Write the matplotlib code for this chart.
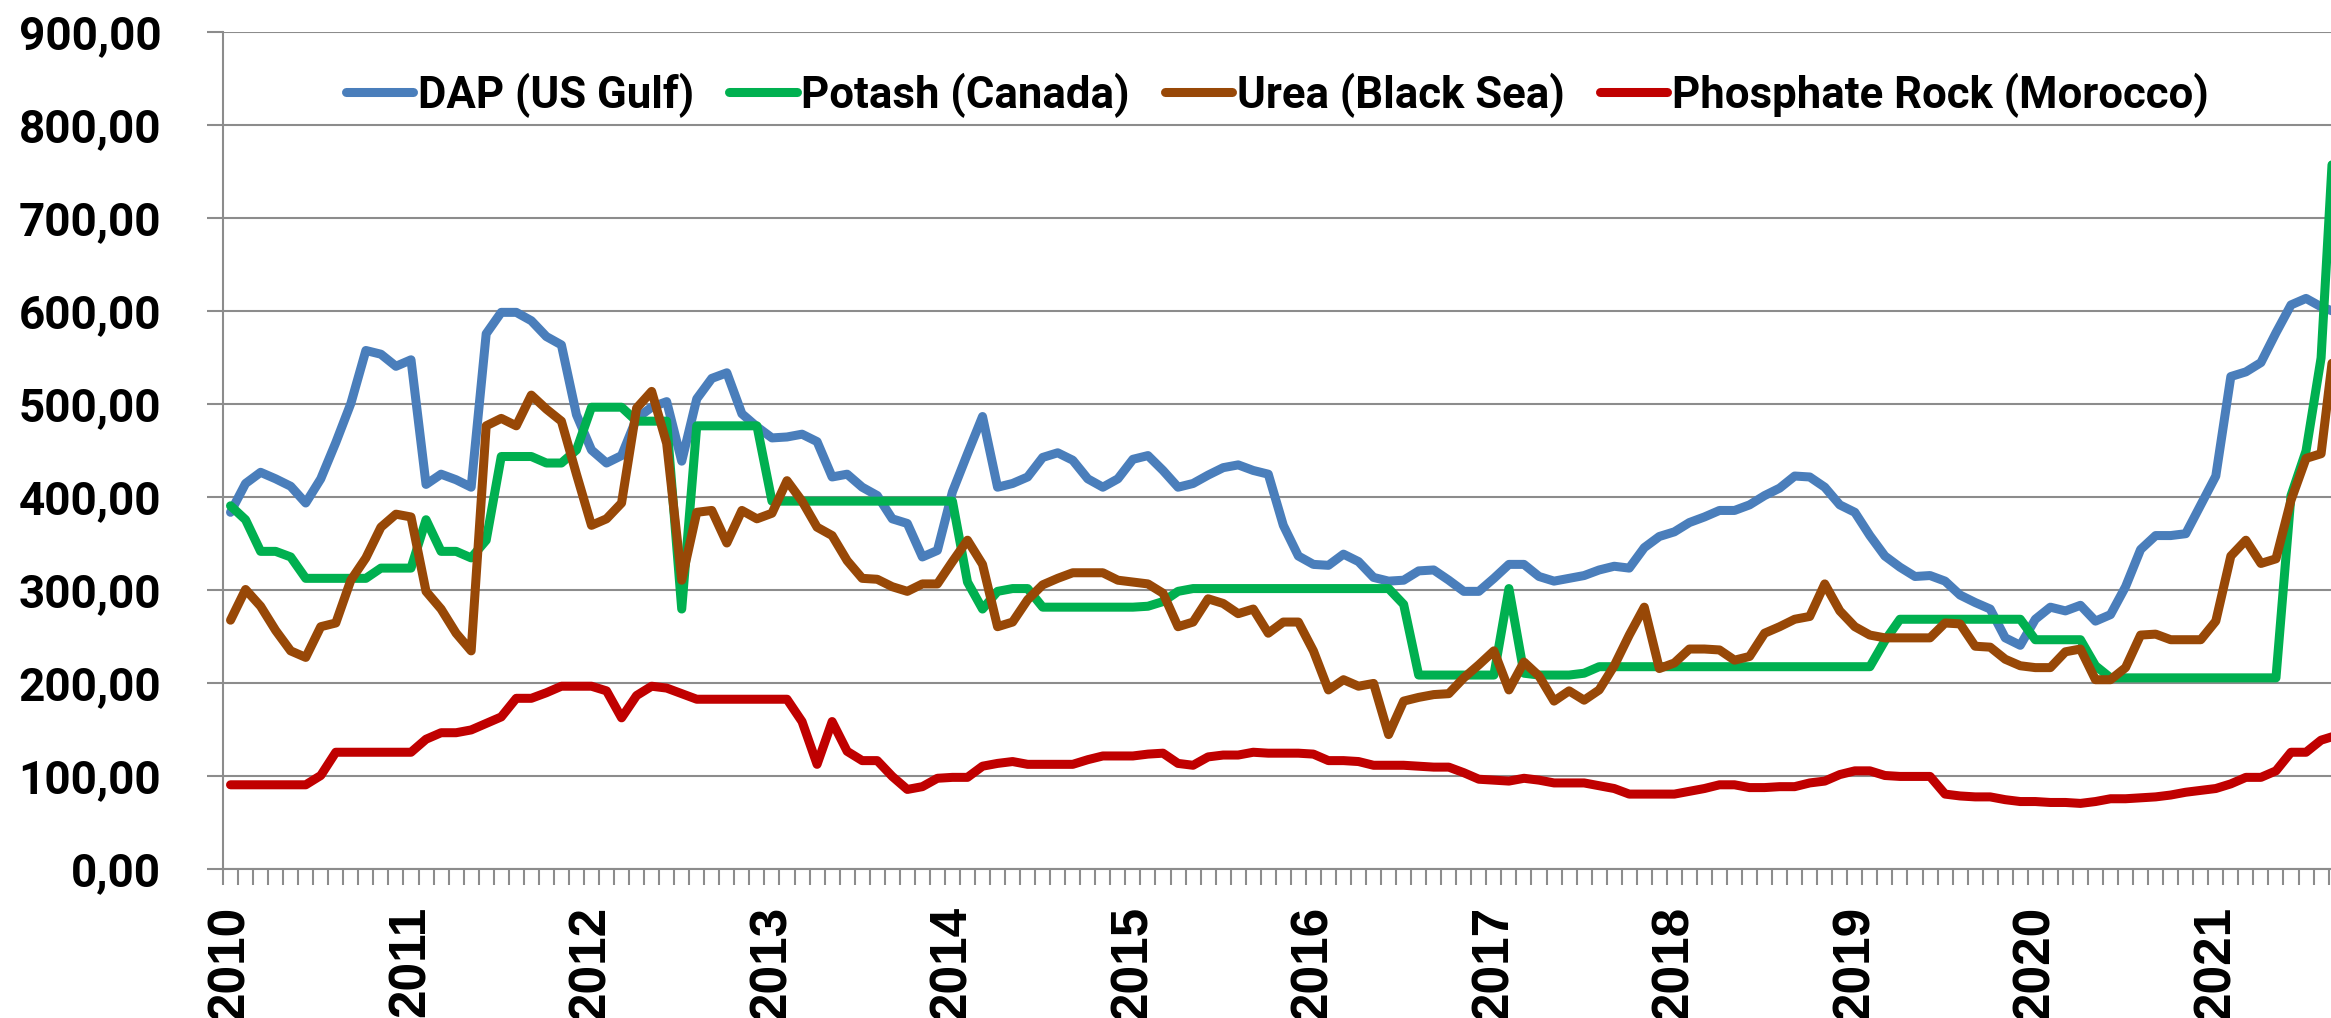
import matplotlib.pyplot as plt
import numpy as np
from matplotlib.ticker import FuncFormatter

# Monthly prices from Jan 2010 (last value is the month just past the visible edge)
dap = [383, 414, 426, 419, 411, 393, 419, 458, 500, 557, 553, 540,
       547, 413, 424, 418, 410, 575, 598, 598, 589, 572, 563, 488,
       450, 436, 444, 484, 496, 502, 438, 505, 527, 533, 489, 475,
       463, 464, 467, 459, 421, 424, 410, 401, 376, 371, 335, 342,
       405, 446, 486, 410, 414, 421, 442, 447, 439, 419, 410, 419,
       440, 444, 428, 410, 414, 423, 431, 434, 428, 424, 369, 336,
       327, 326, 338, 330, 313, 309, 310, 320, 321, 310, 298, 298,
       312, 327, 327, 314, 309, 312, 315, 321, 325, 323, 345, 357,
       362, 372, 378, 385, 385, 391, 401, 409, 422, 421, 410, 391,
       383, 358, 336, 324, 314, 315, 309, 294, 286, 279, 248, 240,
       268, 281, 277, 283, 266, 273, 303, 343, 358, 358, 360, 391,
       422, 529, 534, 544, 576, 606, 613, 604, 598]

potash = [390, 375, 341, 341, 335, 312, 312, 312, 312, 312, 323, 323,
          323, 375, 341, 341, 334, 353, 443, 443, 443, 436, 436, 450,
          496, 496, 496, 481, 481, 481, 279, 476, 476, 476, 476, 476,
          395, 395, 395, 395, 395, 395, 395, 395, 395, 395, 395, 395,
          395, 308, 279, 298, 301, 301, 281, 281, 281, 281, 281, 281,
          281, 282, 287, 298, 301, 301, 301, 301, 301, 301, 301, 301,
          301, 301, 301, 301, 301, 301, 284, 208, 208, 208, 208, 208,
          208, 301, 210, 208, 208, 208, 210, 217, 217, 217, 217, 217,
          217, 217, 217, 217, 217, 217, 217, 217, 217, 217, 217, 217,
          217, 217, 245, 268, 268, 268, 268, 268, 268, 268, 268, 268,
          246, 246, 246, 246, 218, 205, 205, 205, 205, 205, 205, 205,
          205, 205, 205, 205, 205, 401, 449, 549, 835]

urea = [267, 300, 282, 256, 234, 227, 260, 264, 310, 334, 367, 381,
        378, 298, 279, 253, 234, 476, 484, 476, 509, 494, 481, 424,
        369, 376, 393, 495, 513, 457, 310, 383, 385, 350, 385, 376,
        382, 417, 395, 367, 358, 331, 312, 311, 303, 298, 306, 306,
        330, 353, 327, 260, 265, 289, 305, 312, 318, 318, 318, 310,
        308, 306, 296, 260, 265, 290, 285, 274, 279, 253, 265, 265,
        234, 192, 203, 196, 199, 144, 180, 184, 187, 188, 205, 219,
        234, 192, 222, 207, 180, 191, 181, 192, 218, 251, 281, 215,
        221, 236, 236, 235, 224, 228, 253, 260, 268, 271, 306, 277,
        260, 251, 248, 248, 248, 248, 264, 263, 239, 238, 225, 218,
        216, 216, 233, 236, 203, 203, 216, 251, 252, 246, 246, 246,
        266, 336, 353, 328, 333, 396, 441, 446, 580]

rock = [90, 90, 90, 90, 90, 90, 100, 125, 125, 125, 125, 125,
        125, 139, 146, 146, 149, 156, 163, 183, 183, 189, 196, 196,
        196, 191, 162, 186, 196, 194, 188, 182, 182, 182, 182, 182,
        182, 182, 158, 112, 158, 126, 116, 116, 99, 85, 88, 97,
        98, 98, 110, 113, 115, 112, 112, 112, 112, 117, 121, 121,
        121, 123, 124, 113, 111, 120, 122, 122, 125, 124, 124, 124,
        123, 116, 116, 115, 111, 111, 111, 110, 109, 109, 103, 96,
        95, 94, 97, 95, 92, 92, 92, 89, 86, 80, 80, 80,
        80, 83, 86, 90, 90, 87, 87, 88, 88, 92, 94, 101,
        105, 105, 100, 99, 99, 99, 80, 78, 77, 77, 74, 72,
        72, 71, 71, 70, 72, 75, 75, 76, 77, 79, 82, 84,
        86, 91, 98, 98, 105, 125, 125, 138, 143]

years = [str(y) for y in range(2010, 2022)]

x = np.arange(len(dap)) + 0.5
grey = '#8c8c8c'

plt.rcParams['font.family'] = ['Roboto', 'DejaVu Sans']
plt.rcParams['font.weight'] = 'bold'

fig = plt.figure(figsize=(23.31, 10.18), dpi=100)
ax = fig.add_axes([223 / 2331, 149.5 / 1018, 1 - 223 / 2331, 837 / 1018])

style = dict(lw=6.5, solid_capstyle='round', solid_joinstyle='round')
ax.plot(x, dap, color='#4a7ebb', label='DAP (US Gulf)', **style)
ax.plot(x, potash, color='#00b050', label='Potash (Canada)', **style)
ax.plot(x, urea, color='#984807', label='Urea (Black Sea)', **style)
ax.plot(x, rock, color='#c00000', label='Phosphate Rock (Morocco)', **style)

ax.set_xlim(0, 2108 / 15.04)
ax.set_ylim(0, 900)

# y axis
ax.set_yticks(range(0, 901, 100))
ax.yaxis.set_major_formatter(FuncFormatter(lambda v, p: f'{v:.2f}'.replace('.', ',')))
ax.yaxis.grid(True, color=grey, lw=1.5)
ax.set_axisbelow(True)
ax.tick_params(axis='y', length=11.5, width=1.5, color=grey, pad=33,
               labelsize=33)

# x axis: month ticks, year labels
ax.set_xticks(np.arange(0, 12 * len(years), 12) + 0.5)
ax.set_xticklabels(years, rotation=90, fontfamily='Liberation Sans',
                   fontweight='bold', fontsize=37)
ax.set_xticks(np.arange(0, 141), minor=True)
ax.tick_params(axis='x', which='major', length=0, pad=27)
ax.tick_params(axis='x', which='minor', length=11.5, width=1.5, color=grey)

for side in ['top', 'right']:
    ax.spines[side].set_visible(False)
for side in ['left', 'bottom']:
    ax.spines[side].set_color(grey)
    ax.spines[side].set_linewidth(1.5)

ax.legend(loc='center', bbox_to_anchor=(0.5, 0.924), ncol=4, frameon=False,
          fontsize=31.5, handlelength=1.55, handletextpad=0.1,
          columnspacing=0.8, borderpad=0, borderaxespad=0)

fig.savefig('out.png', dpi=100)
